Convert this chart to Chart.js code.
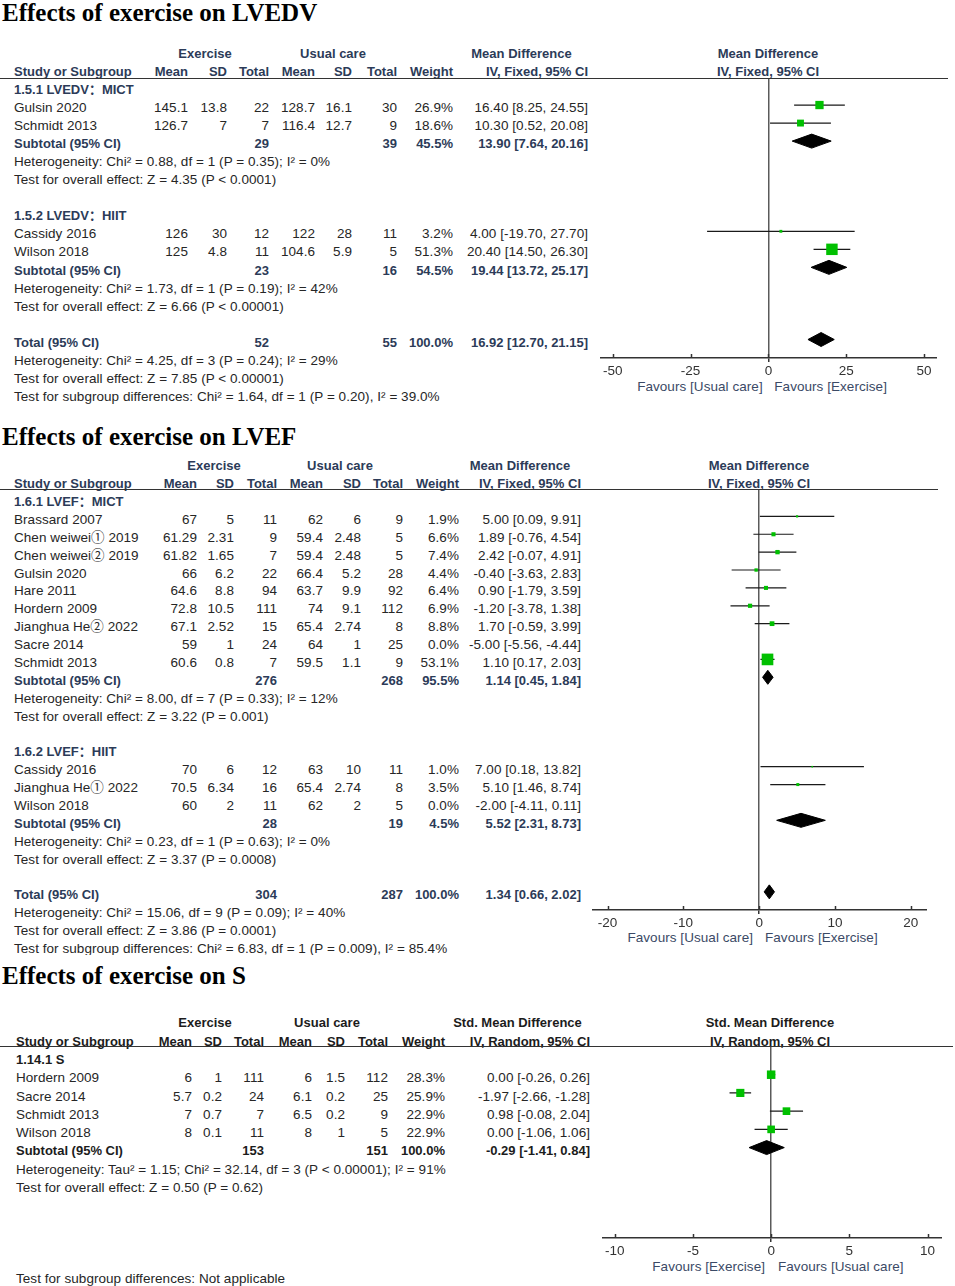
<!DOCTYPE html>
<html>
<head>
<meta charset="utf-8">
<script src="https://cdn.jsdelivr.net/npm/chart.js@4.4.1/dist/chart.umd.min.js"></script>
<style>
  body { margin: 0; background: #fff; width: 955px; height: 1286px; position: relative; overflow: hidden; }
  .panel { position: absolute; left: 0; width: 955px; overflow: hidden; }
  .t { position: absolute; white-space: nowrap; font: 13.5px "Liberation Sans", Arial, "Noto Sans CJK SC", sans-serif; letter-spacing: 0.05px; line-height: 16px; color: #262626; }
  .b { font-weight: bold; font-size: 13px; letter-spacing: 0; color: #2c3b58; }
  .dark .b { color: #1c1c1c; }
  .title { font: bold 25px "Liberation Serif", "Times New Roman", serif; line-height: 28px; color: #000; letter-spacing: 0; }
  .fav { color: #3b4a66; }
  .hline { position: absolute; left: 0; height: 0; border-top: 1.5px solid #333; }
  canvas { position: absolute; }
</style>
</head>
<body>
<script>

/*=========================================
LVEDV DATA
=========================================*/

const edvStudies = ["Gulsin 2020", "Schmidt 2013", "Cassidy 2016", "Wilson 2018"];
const edvExMean = ["145.1", "126.7", "126", "125"];
const edvExSd = ["13.8", "7", "30", "4.8"];
const edvExTotal = ["22", "7", "12", "11"];
const edvUcMean = ["128.7", "116.4", "122", "104.6"];
const edvUcSd = ["16.1", "12.7", "28", "5.9"];
const edvUcTotal = ["30", "9", "11", "5"];
const edvWeight = [26.9, 18.6, 3.2, 51.3];
const edvMd = [16.40, 10.30, 4.00, 20.40];
const edvLow = [8.25, 0.52, -19.70, 14.50];
const edvHigh = [24.55, 20.08, 27.70, 26.30];
const edvRows = [1, 2, 8, 9];

const edvGroups = ["1.5.1 LVEDV：MICT", "1.5.2 LVEDV：HIIT"];
const edvGroupRows = [0, 7];

const edvSubLabels = ["Subtotal (95% CI)", "Subtotal (95% CI)", "Total (95% CI)"];
const edvSubEx = ["29", "23", "52"];
const edvSubUc = ["39", "16", "55"];
const edvSubWeight = [45.5, 54.5, 100.0];
const edvSubMd = [13.90, 19.44, 16.92];
const edvSubLow = [7.64, 13.72, 12.70];
const edvSubHigh = [20.16, 25.17, 21.15];
const edvSubRows = [3, 10, 14];

const edvNotes = [
  "Heterogeneity: Chi² = 0.88, df = 1 (P = 0.35); I² = 0%",
  "Test for overall effect: Z = 4.35 (P < 0.0001)",
  "Heterogeneity: Chi² = 1.73, df = 1 (P = 0.19); I² = 42%",
  "Test for overall effect: Z = 6.66 (P < 0.00001)",
  "Heterogeneity: Chi² = 4.25, df = 3 (P = 0.24); I² = 29%",
  "Test for overall effect: Z = 7.85 (P < 0.00001)",
  "Test for subgroup differences: Chi² = 1.64, df = 1 (P = 0.20), I² = 39.0%"
];
const edvNoteRows = [4, 5, 11, 12, 15, 16, 17];
const edvTicks = [-50, -25, 0, 25, 50];

/*=========================================
LVEF DATA
=========================================*/

const efStudies = ["Brassard 2007", "Chen weiwei① 2019", "Chen weiwei② 2019", "Gulsin 2020", "Hare 2011",
  "Hordern 2009", "Jianghua He② 2022", "Sacre 2014", "Schmidt 2013",
  "Cassidy 2016", "Jianghua He① 2022", "Wilson 2018"];
const efExMean = ["67", "61.29", "61.82", "66", "64.6", "72.8", "67.1", "59", "60.6", "70", "70.5", "60"];
const efExSd = ["5", "2.31", "1.65", "6.2", "8.8", "10.5", "2.52", "1", "0.8", "6", "6.34", "2"];
const efExTotal = ["11", "9", "7", "22", "94", "111", "15", "24", "7", "12", "16", "11"];
const efUcMean = ["62", "59.4", "59.4", "66.4", "63.7", "74", "65.4", "64", "59.5", "63", "65.4", "62"];
const efUcSd = ["6", "2.48", "2.48", "5.2", "9.9", "9.1", "2.74", "1", "1.1", "10", "2.74", "2"];
const efUcTotal = ["9", "5", "5", "28", "92", "112", "8", "25", "9", "11", "8", "5"];
const efWeight = [1.9, 6.6, 7.4, 4.4, 6.4, 6.9, 8.8, 0.0, 53.1, 1.0, 3.5, 0.0];
const efMd = [5.00, 1.89, 2.42, -0.40, 0.90, -1.20, 1.70, -5.00, 1.10, 7.00, 5.10, -2.00];
const efLow = [0.09, -0.76, -0.07, -3.63, -1.79, -3.78, -0.59, -5.56, 0.17, 0.18, 1.46, -4.11];
const efHigh = [9.91, 4.54, 4.91, 2.83, 3.59, 1.38, 3.99, -4.44, 2.03, 13.82, 8.74, 0.11];
const efRows = [1, 2, 3, 4, 5, 6, 7, 8, 9, 15, 16, 17];

const efGroups = ["1.6.1 LVEF：MICT", "1.6.2 LVEF：HIIT"];
const efGroupRows = [0, 14];

const efSubLabels = ["Subtotal (95% CI)", "Subtotal (95% CI)", "Total (95% CI)"];
const efSubEx = ["276", "28", "304"];
const efSubUc = ["268", "19", "287"];
const efSubWeight = [95.5, 4.5, 100.0];
const efSubMd = [1.14, 5.52, 1.34];
const efSubLow = [0.45, 2.31, 0.66];
const efSubHigh = [1.84, 8.73, 2.02];
const efSubRows = [10, 18, 22];

const efNotes = [
  "Heterogeneity: Chi² = 8.00, df = 7 (P = 0.33); I² = 12%",
  "Test for overall effect: Z = 3.22 (P = 0.001)",
  "Heterogeneity: Chi² = 0.23, df = 1 (P = 0.63); I² = 0%",
  "Test for overall effect: Z = 3.37 (P = 0.0008)",
  "Heterogeneity: Chi² = 15.06, df = 9 (P = 0.09); I² = 40%",
  "Test for overall effect: Z = 3.86 (P = 0.0001)",
  "Test for subgroup differences: Chi² = 6.83, df = 1 (P = 0.009), I² = 85.4%"
];
const efNoteRows = [11, 12, 19, 20, 23, 24, 25];
const efTicks = [-20, -10, 0, 10, 20];

/*=========================================
S DATA
=========================================*/

const sStudies = ["Hordern 2009", "Sacre 2014", "Schmidt 2013", "Wilson 2018"];
const sExMean = ["6", "5.7", "7", "8"];
const sExSd = ["1", "0.2", "0.7", "0.1"];
const sExTotal = ["111", "24", "7", "11"];
const sUcMean = ["6", "6.1", "6.5", "8"];
const sUcSd = ["1.5", "0.2", "0.2", "1"];
const sUcTotal = ["112", "25", "9", "5"];
const sWeight = [28.3, 25.9, 22.9, 22.9];
const sMd = [0.00, -1.97, 0.98, 0.00];
const sLow = [-0.26, -2.66, -0.08, -1.06];
const sHigh = [0.26, -1.28, 2.04, 1.06];
const sRows = [1, 2, 3, 4];

const sGroups = ["1.14.1 S"];
const sGroupRows = [0];

const sSubLabels = ["Subtotal (95% CI)"];
const sSubEx = ["153"];
const sSubUc = ["151"];
const sSubWeight = [100.0];
const sSubMd = [-0.29];
const sSubLow = [-1.41];
const sSubHigh = [0.84];
const sSubRows = [5];

const sNotes = [
  "Heterogeneity: Tau² = 1.15; Chi² = 32.14, df = 3 (P < 0.00001); I² = 91%",
  "Test for overall effect: Z = 0.50 (P = 0.62)",
  "Test for subgroup differences: Not applicable"
];
const sNoteRows = [6, 7, 12];
const sTicks = [-10, -5, 0, 5, 10];

/*=========================================
HELPERS
=========================================*/

Chart.defaults.font.family = '"Liberation Sans", Arial, sans-serif';
Chart.defaults.font.size = 13;
Chart.defaults.color = "#333";

const fmt = v => v.toFixed(2);
const ciText = (m, l, h) => fmt(m) + " [" + fmt(l) + ", " + fmt(h) + "]";

function put(box, text, x, y, align, cls) {
  const el = document.createElement("div");
  el.className = "t " + (cls || "");
  el.textContent = text;
  el.style.top = (y - 8) + "px";
  if (align === "right") {
    el.style.right = (955 - x) + "px";
  } else if (align === "center") {
    el.style.left = x + "px";
    el.style.transform = "translateX(-50%)";
  } else {
    el.style.left = x + "px";
  }
  box.appendChild(el);
  return el;
}

// tick marks poke a little above the axis line as well
const tickMarks = {
  id: "tickMarks",
  afterDraw(chart) {
    const sx = chart.scales.x;
    const ctx = chart.ctx;
    const y0 = chart.chartArea.bottom;
    ctx.save();
    ctx.strokeStyle = "#333";
    ctx.lineWidth = 1.5;
    sx.ticks.forEach(t => {
      const px = Math.round(sx.getPixelForValue(t.value)) + 0.5;
      ctx.beginPath();
      ctx.moveTo(px, y0 - 4);
      ctx.lineTo(px, y0);
      ctx.stroke();
    });
    ctx.restore();
  }
};

/*=========================================
PANEL
=========================================*/

function drawPanel(d, L) {

  const box = document.createElement("div");
  box.className = "panel" + (L.dark ? " dark" : "");
  box.style.top = L.top + "px";
  box.style.height = L.height + "px";
  document.body.appendChild(box);

  const Y = v => v - L.top;
  const rowY = r => Y(L.base + r * L.step);

  // title
  const tt = put(box, L.title, 2, Y(L.titleY), "left", "title");
  tt.style.top = (Y(L.titleY) - 14) + "px";

  // headers
  put(box, "Exercise", L.exCenter, Y(L.head1), "center", "b");
  put(box, "Usual care", L.ucCenter, Y(L.head1), "center", "b");
  put(box, L.measure, L.mdCenter, Y(L.head1), "center", "b");
  put(box, L.measure, L.plotCenter, Y(L.head1), "center", "b");
  put(box, "Study or Subgroup", L.studyX, Y(L.head2), "left", "b");
  ["Mean", "SD", "Total", "Mean", "SD", "Total", "Weight", L.method].forEach((h, i) => {
    put(box, h, L.cols[i], Y(L.head2), "right", "b");
  });
  put(box, L.method, L.plotCenter, Y(L.head2), "center", "b");

  const line = document.createElement("div");
  line.className = "hline";
  line.style.top = (Y(L.lineY) - 0.75) + "px";
  line.style.width = L.lineRight + "px";
  box.appendChild(line);

  // subgroup titles
  d.groups.forEach((g, i) => put(box, g, L.studyX, rowY(d.groupRows[i]), "left", "b"));

  // studies
  d.studies.forEach((s, i) => {
    const y = rowY(d.rows[i]);
    put(box, s, L.studyX, y, "left");
    [d.exMean[i], d.exSd[i], d.exTotal[i], d.ucMean[i], d.ucSd[i], d.ucTotal[i],
      d.weight[i].toFixed(1) + "%", ciText(d.md[i], d.low[i], d.high[i])].forEach((v, c) => {
      put(box, v, L.cols[c], y, "right");
    });
  });

  // subtotals and total
  d.subLabels.forEach((s, i) => {
    const y = rowY(d.subRows[i]);
    put(box, s, L.studyX, y, "left", "b");
    put(box, d.subEx[i], L.cols[2], y, "right", "b");
    put(box, d.subUc[i], L.cols[5], y, "right", "b");
    put(box, d.subWeight[i].toFixed(1) + "%", L.cols[6], y, "right", "b");
    put(box, ciText(d.subMd[i], d.subLow[i], d.subHigh[i]), L.cols[7], y, "right", "b");
  });

  // notes
  d.notes.forEach((n, i) => put(box, n, L.studyX, rowY(d.noteRows[i]), "left"));

  // favours labels
  put(box, L.favLeft, L.favLeftX, Y(L.favY), "right", "fav");
  put(box, L.favRight, L.favRightX, Y(L.favY), "left", "fav");

  /*----- forest plot -----*/

  const canvas = document.createElement("canvas");
  const w = Math.round(L.right - L.left);
  const h = Math.round(L.axisY - L.lineY) + 30;
  canvas.width = w;
  canvas.height = h;
  canvas.style.left = L.left + "px";
  canvas.style.top = Y(L.lineY) + "px";
  box.appendChild(canvas);

  const markAt = L.base - 3.5;
  const yMin = (L.lineY - markAt) / L.step;
  const yMax = yMin + (L.axisY - L.lineY) / L.step;
  const half = 7 / L.step;

  const shown = d.studies.map((s, i) => i).filter(i => d.weight[i] > 0);

  const ciPoints = [];
  shown.forEach(i => {
    ciPoints.push({ x: d.low[i], y: d.rows[i] });
    ciPoints.push({ x: d.high[i], y: d.rows[i] });
    ciPoints.push({ x: d.high[i], y: null });
  });

  const datasets = [{
    label: "Studies",
    data: shown.map(i => ({ x: d.md[i], y: d.rows[i] })),
    pointStyle: "rect",
    pointRadius: shown.map(i => Math.max(1.6, 1.6 * Math.sqrt(d.weight[i])) / Math.SQRT2),
    backgroundColor: "#00c000",
    borderWidth: 0,
    order: 0
  }];

  d.subMd.forEach((m, i) => {
    const r = d.subRows[i];
    datasets.push({
      label: d.subLabels[i],
      data: [
        { x: d.subLow[i], y: r }, { x: m, y: r - half },
        { x: d.subHigh[i], y: r }, { x: m, y: r + half }, { x: d.subLow[i], y: r }
      ],
      showLine: true,
      fill: "shape",
      tension: 0,
      borderColor: "#000",
      backgroundColor: "#000",
      borderWidth: 1,
      pointRadius: 0,
      order: 1
    });
  });

  datasets.push({
    label: "95% CI",
    data: ciPoints,
    showLine: true,
    spanGaps: false,
    borderColor: "#1a1a1a",
    borderWidth: 1.2,
    pointRadius: 0,
    order: 2
  });

  new Chart(canvas, {
    type: "scatter",
    data: { datasets: datasets },
    plugins: [tickMarks],
    options: {
      responsive: false,
      animation: false,
      devicePixelRatio: 1,
      events: [],
      layout: { padding: 0, autoPadding: false },
      scales: {
        x: {
          type: "linear",
          min: L.xMin,
          max: L.xMax,
          afterBuildTicks: s => { s.ticks = L.ticks.map(v => ({ value: v })); },
          afterFit: s => {
            s.height = 30;
            s.paddingLeft = 0;
            s.paddingRight = 0;
          },
          grid: {
            drawOnChartArea: true,
            color: c => (c.tick && c.tick.value === 0 ? "#5a5a5a" : "rgba(0,0,0,0)"),
            lineWidth: c => (c.tick && c.tick.value === 0 ? 1.5 : 0),
            tickColor: "#333",
            tickLength: 4
          },
          border: { display: true, color: "#333", width: 1.5 },
          ticks: { padding: 1, color: "#333", font: { size: 13.5 }, maxRotation: 0 }
        },
        y: {
          type: "linear",
          display: false,
          reverse: true,
          min: yMin,
          max: yMax
        }
      },
      plugins: {
        legend: { display: false },
        tooltip: { enabled: false }
      }
    }
  });
}

/*=========================================
BUILD
=========================================*/

drawPanel({
  studies: edvStudies, exMean: edvExMean, exSd: edvExSd, exTotal: edvExTotal,
  ucMean: edvUcMean, ucSd: edvUcSd, ucTotal: edvUcTotal, weight: edvWeight,
  md: edvMd, low: edvLow, high: edvHigh, rows: edvRows,
  groups: edvGroups, groupRows: edvGroupRows,
  subLabels: edvSubLabels, subEx: edvSubEx, subUc: edvSubUc, subWeight: edvSubWeight,
  subMd: edvSubMd, subLow: edvSubLow, subHigh: edvSubHigh, subRows: edvSubRows,
  notes: edvNotes, noteRows: edvNoteRows
}, {
  top: 0, height: 404, title: "Effects of exercise on LVEDV", titleY: 13,
  head1: 54, head2: 72, lineY: 78.5, lineRight: 948,
  cols: [188, 227, 269, 315, 352, 397, 453, 588], studyX: 14,
  exCenter: 205, ucCenter: 333, mdCenter: 521.5, plotCenter: 768,
  measure: "Mean Difference", method: "IV, Fixed, 95% CI",
  base: 90, step: 18.05,
  left: 600, right: 937, axisY: 357.7, xMin: -54.1, xMax: 54.15, ticks: edvTicks,
  favLeft: "Favours [Usual care]", favRight: "Favours [Exercise]",
  favLeftX: 762.7, favRightX: 774.3, favY: 387
});

drawPanel({
  studies: efStudies, exMean: efExMean, exSd: efExSd, exTotal: efExTotal,
  ucMean: efUcMean, ucSd: efUcSd, ucTotal: efUcTotal, weight: efWeight,
  md: efMd, low: efLow, high: efHigh, rows: efRows,
  groups: efGroups, groupRows: efGroupRows,
  subLabels: efSubLabels, subEx: efSubEx, subUc: efSubUc, subWeight: efSubWeight,
  subMd: efSubMd, subLow: efSubLow, subHigh: efSubHigh, subRows: efSubRows,
  notes: efNotes, noteRows: efNoteRows
}, {
  top: 404, height: 551, title: "Effects of exercise on LVEF", titleY: 437,
  head1: 466, head2: 484, lineY: 490, lineRight: 938,
  cols: [197, 234, 277, 323, 361, 403, 459, 581], studyX: 14,
  exCenter: 214, ucCenter: 340, mdCenter: 520, plotCenter: 759,
  measure: "Mean Difference", method: "IV, Fixed, 95% CI",
  base: 502, step: 17.88,
  left: 592, right: 926.7, axisY: 910, xMin: -22.05, xMax: 22.14, ticks: efTicks,
  favLeft: "Favours [Usual care]", favRight: "Favours [Exercise]",
  favLeftX: 753, favRightX: 765, favY: 938
});

drawPanel({
  studies: sStudies, exMean: sExMean, exSd: sExSd, exTotal: sExTotal,
  ucMean: sUcMean, ucSd: sUcSd, ucTotal: sUcTotal, weight: sWeight,
  md: sMd, low: sLow, high: sHigh, rows: sRows,
  groups: sGroups, groupRows: sGroupRows,
  subLabels: sSubLabels, subEx: sSubEx, subUc: sSubUc, subWeight: sSubWeight,
  subMd: sSubMd, subLow: sSubLow, subHigh: sSubHigh, subRows: sSubRows,
  notes: sNotes, noteRows: sNoteRows
}, {
  top: 955, height: 331, title: "Effects of exercise on S", titleY: 976, dark: true,
  head1: 1023, head2: 1042, lineY: 1047, lineRight: 953,
  cols: [192, 222, 264, 312, 345, 388, 445, 590], studyX: 16,
  exCenter: 205, ucCenter: 327, mdCenter: 517.5, plotCenter: 770,
  measure: "Std. Mean Difference", method: "IV, Random, 95% CI",
  base: 1060, step: 18.25,
  left: 602, right: 941.7, axisY: 1238.3, xMin: -10.81, xMax: 10.92, ticks: sTicks,
  favLeft: "Favours [Exercise]", favRight: "Favours [Usual care]",
  favLeftX: 765, favRightX: 778, favY: 1267
});

</script>
</body>
</html>
